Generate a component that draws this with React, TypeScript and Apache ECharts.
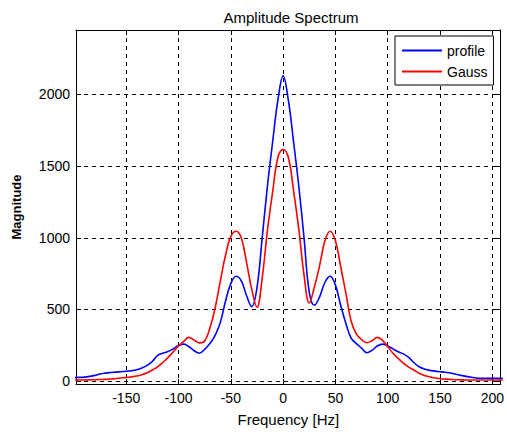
import React, { useEffect, useRef } from "react";
import * as echarts from "echarts";

const freq = [
  -200, -195, -190, -185, -180, -175, -170, -165, -160, -155, -150, -145, -140, -135, -130, -125, -120, -115, -110, -105,
  -100, -95, -90, -85, -80, -75, -70, -65, -60, -55, -50, -45, -40, -35, -30, -25, -20, -15, -10, -5,
  0, 5, 10, 15, 20, 25, 30, 35, 40, 45, 50, 55, 60, 65, 70, 75, 80, 85, 90, 95,
  100, 105, 110, 115, 120, 125, 130, 135, 140, 145, 150, 155, 160, 165, 170, 175, 180, 185, 190, 195,
  200, 205, 210,
];

const profile = [
  25, 26, 28, 33, 40, 50, 56, 60, 63, 66, 69, 73, 80, 92, 110, 138, 180, 195, 206, 225,
  248, 258, 240, 212, 195, 222, 262, 320, 410, 560, 680, 732, 700, 598, 520, 650, 1000, 1360, 1670, 1960,
  2130, 1960, 1670, 1360, 1000, 620, 530, 590, 690, 732, 670, 530, 402, 300, 262, 230, 198, 215, 245, 258,
  245, 225, 205, 190, 165, 130, 100, 85, 75, 70, 66, 62, 57, 48, 40, 33, 27, 22, 20, 20,
  20, 20, 20,
];

const gauss = [
  8, 8, 8, 9, 10, 11, 12, 15, 18, 22, 25, 30, 36, 45, 58, 78, 100, 130, 165, 205,
  245, 278, 305, 285, 267, 280, 370, 510, 700, 880, 1010, 1046, 1000, 830, 640, 515, 720, 1050, 1320, 1560,
  1616, 1560, 1330, 1060, 740, 545, 660, 810, 980, 1046, 980, 800, 614, 420, 330, 290, 268, 282, 305, 285,
  240, 195, 158, 125, 98, 78, 55, 40, 30, 22, 17, 14, 12, 10, 9, 8, 8, 8, 8, 8,
  8, 8, 8,
];

const xMin = -198;
const xMax = 208;
const yMin = -20;
const yMax = 2450;

const FONT = "Liberation Sans, Arial, sans-serif";

export default function App() {
  const ref = useRef<HTMLDivElement>(null);
  useEffect(() => {
    if (!ref.current) return;
    const chart = echarts.init(ref.current, undefined, { renderer: "svg" });
    const gridLine = { show: true, lineStyle: { color: "#000", width: 1, type: [4, 4] as any } };
    const axisLine = { show: true, onZero: false, lineStyle: { color: "#000", width: 1 } };
    const tickIn = { show: true, inside: true, length: 5, lineStyle: { color: "#000", width: 1 } };
    chart.setOption({
      animation: false,
      backgroundColor: "#fff",
      title: {
        text: "Amplitude Spectrum",
        left: 286,
        top: 5,
        textAlign: "center",
        textStyle: { fontSize: 15, fontWeight: "normal", color: "#000", fontFamily: FONT },
      },
      legend: {
        orient: "vertical",
        left: 395,
        top: 36,
        padding: [7, 6, 6, 7],
        itemGap: 6,
        itemWidth: 40,
        itemHeight: 2,
        icon: "rect",
        backgroundColor: "#fff",
        borderColor: "#000",
        borderWidth: 1,
        borderRadius: 0,
        textStyle: { fontSize: 14, color: "#000", fontFamily: FONT, lineHeight: 15 },
        data: ["profile", "Gauss"],
      },
      grid: { left: 76, right: 5, top: 30, bottom: 51 },
      xAxis: [
        {
          type: "value",
          min: xMin,
          max: xMax,
          splitNumber: 8,
          position: "bottom",
          axisLine,
          axisTick: tickIn,
          splitLine: gridLine,
          axisLabel: {
            margin: 7,
            fontSize: 14,
            color: "#000",
            fontFamily: FONT,
            formatter: (v: number) => (v % 50 === 0 ? String(v) : ""),
          },
          name: "Frequency [Hz]",
          nameLocation: "middle",
          nameGap: 28,
          nameTextStyle: { fontSize: 15, color: "#000", fontFamily: FONT },
        },
        {
          type: "value",
          min: xMin,
          max: xMax,
          splitNumber: 8,
          position: "top",
          axisLine,
          axisTick: tickIn,
          splitLine: { show: false },
          axisLabel: { show: false },
        },
      ],
      yAxis: [
        {
          type: "value",
          min: yMin,
          max: yMax,
          splitNumber: 5,
          position: "left",
          axisLine,
          axisTick: tickIn,
          splitLine: gridLine,
          axisLabel: {
            margin: 6,
            fontSize: 14,
            color: "#000",
            fontFamily: FONT,
            formatter: (v: number) => (v % 500 === 0 ? String(v) : ""),
          },
          name: "Magnitude",
          nameLocation: "middle",
          nameRotate: 90,
          nameGap: 53,
          nameTextStyle: { fontSize: 13, fontWeight: "bold", color: "#000", fontFamily: FONT },
        },
        {
          type: "value",
          min: yMin,
          max: yMax,
          splitNumber: 5,
          position: "right",
          axisLine,
          axisTick: tickIn,
          splitLine: { show: false },
          axisLabel: { show: false },
        },
      ],
      series: [
        {
          name: "profile",
          type: "line",
          xAxisIndex: 0,
          yAxisIndex: 0,
          symbol: "none",
          smooth: 0.4,
          color: "#0000ff",
          lineStyle: { color: "#0000ff", width: 1.6 },
          data: freq.map((f, i) => [f, profile[i]]),
        },
        {
          name: "Gauss",
          type: "line",
          xAxisIndex: 0,
          yAxisIndex: 0,
          symbol: "none",
          smooth: 0.4,
          color: "#ff0000",
          lineStyle: { color: "#ff0000", width: 1.6 },
          data: freq.map((f, i) => [f, gauss[i]]),
        },
      ],
    });
    return () => chart.dispose();
  }, []);
  return (
    <div
      ref={ref}
      style={{ position: "fixed", left: 0, top: 0, width: 507, height: 435, background: "#fff" }}
    />
  );
}
